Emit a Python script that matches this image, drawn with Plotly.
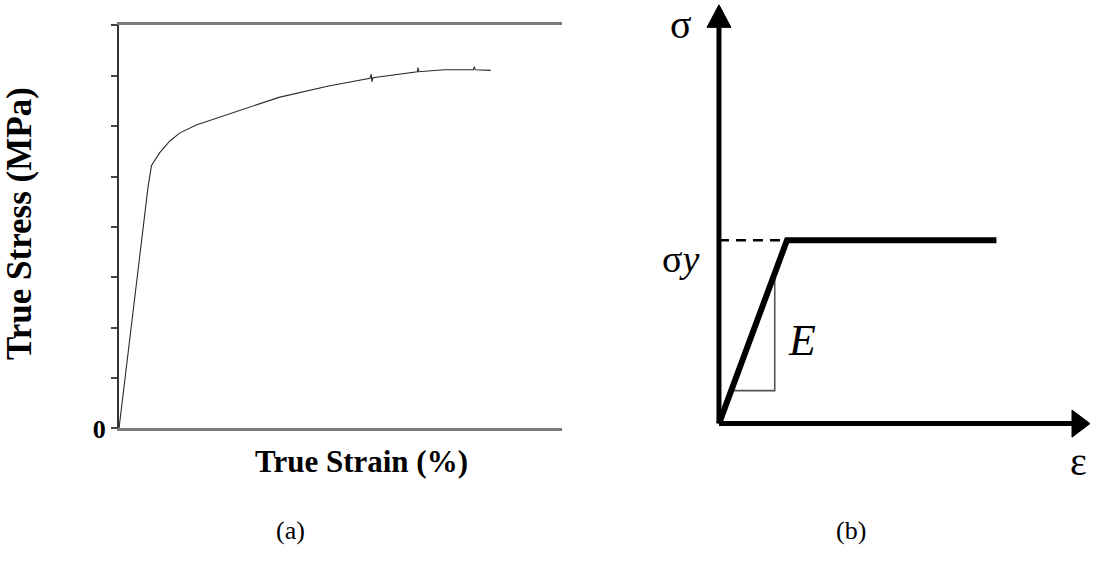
import plotly.graph_objects as go

# ---- (a) measured true stress-strain curve ----
true_strain = [0, 1.97, 2.20, 2.76, 3.43, 4.10, 5.23, 7.47, 10.83, 14.19,
               17.00, 17.08, 17.13, 17.20, 20.20, 20.25, 20.30, 22.04,
               24.00, 24.06, 24.12, 25.18]
true_stress = [0, 479.8, 521.7, 547.4, 570.0, 586.1, 602.3, 624.7, 657.0, 679.6,
               695.0, 703.0, 688.0, 696.0, 708.0, 716.0, 708.0, 711.7,
               711.7, 718.0, 711.7, 710.5]
stress_ticks = [0, 100, 200, 300, 400, 500, 600, 700, 800]
stress_tick_text = ["0", "", "", "", "", "", "", "", ""]

# ---- (b) idealised elastic / perfectly-plastic model (normalised) ----
model_strain = [0, 1.0, 4.08]
model_stress = [0, 1.0, 1.0]
yield_strain = 1.0
yield_stress = 1.0
slope_tri_strain = [0.18, 0.82, 0.82]
slope_tri_stress = [0.18, 0.18, 0.82]

W, H = 1093, 573
SERIF = "Liberation Serif"


def px(x):
    return x / W


def py(y):
    return 1 - y / H


fig = go.Figure()

fig.add_trace(go.Scatter(
    x=true_strain, y=true_stress, mode="lines",
    line=dict(color="#2a2a2a", width=1.1),
    xaxis="x", yaxis="y", showlegend=False, hoverinfo="skip"))

# axes of the schematic with arrow heads
EPS_MAX, SIG_MAX = 5.456, 2.284
HEAD_E, HEAD_S = 0.265, 0.123
HALF_E, HALF_S = 0.176, 0.074
fig.add_trace(go.Scatter(x=[0, 0], y=[0, SIG_MAX - HEAD_S], mode="lines",
                         line=dict(color="black", width=5),
                         xaxis="x2", yaxis="y2", showlegend=False, hoverinfo="skip"))
fig.add_trace(go.Scatter(x=[0, EPS_MAX - HEAD_E], y=[0, 0], mode="lines",
                         line=dict(color="black", width=5),
                         xaxis="x2", yaxis="y2", showlegend=False, hoverinfo="skip"))
fig.add_trace(go.Scatter(x=[-HALF_E, HALF_E, 0, -HALF_E],
                         y=[SIG_MAX - HEAD_S, SIG_MAX - HEAD_S, SIG_MAX, SIG_MAX - HEAD_S],
                         mode="lines", fill="toself", fillcolor="black",
                         line=dict(color="black", width=1),
                         xaxis="x2", yaxis="y2", showlegend=False, hoverinfo="skip"))
fig.add_trace(go.Scatter(x=[EPS_MAX - HEAD_E, EPS_MAX - HEAD_E, EPS_MAX, EPS_MAX - HEAD_E],
                         y=[-HALF_S, HALF_S, 0, -HALF_S],
                         mode="lines", fill="toself", fillcolor="black",
                         line=dict(color="black", width=1),
                         xaxis="x2", yaxis="y2", showlegend=False, hoverinfo="skip"))

# yield level guide
fig.add_trace(go.Scatter(x=[0, yield_strain], y=[yield_stress, yield_stress], mode="lines",
                         line=dict(color="black", width=2.5, dash="10px,7px"),
                         xaxis="x2", yaxis="y2", showlegend=False, hoverinfo="skip"))
# slope triangle
fig.add_trace(go.Scatter(x=slope_tri_strain, y=slope_tri_stress, mode="lines",
                         line=dict(color="#555555", width=1.6),
                         xaxis="x2", yaxis="y2", showlegend=False, hoverinfo="skip"))
# elastic-plastic response
fig.add_trace(go.Scatter(x=model_strain, y=model_stress, mode="lines",
                         line=dict(color="black", width=6),
                         xaxis="x2", yaxis="y2", showlegend=False, hoverinfo="skip"))

ann = []


def label(x, y, text, size, bold=False, angle=0, yanchor="middle"):
    ann.append(dict(x=px(x), y=py(y), xref="paper", yref="paper", text=text,
                    showarrow=False, textangle=angle, xanchor="center", yanchor=yanchor,
                    font=dict(family=SERIF, size=size, color="black",
                              weight="bold" if bold else "normal")))


label(20, 230, "True Stress (MPa)", 35, bold=True, angle=-90)
label(361, 474, "True Strain (%)", 31, bold=True)
label(681, 0, "σ", 40, yanchor="top")
label(680, 266, "σ<i>y</i>", 38)
label(802, 350, "<i>E</i>", 44)
label(1078, 474, "ε", 40)
label(290, 545, "(a)", 26)
label(851, 545, "(b)", 26)

fig.update_layout(
    width=W, height=H,
    margin=dict(l=0, r=0, t=0, b=0),
    paper_bgcolor="white", plot_bgcolor="white",
    annotations=ann,
    xaxis=dict(domain=[px(119), px(562)], range=[0, 30], showline=True,
               linecolor="#7a7a7a", linewidth=3, mirror=True, ticks="",
               showticklabels=False, showgrid=False, zeroline=False),
    yaxis=dict(domain=[py(440), py(26)], range=[0, 800], showline=True,
               linecolor="#333333", linewidth=2, ticks="outside",
               tickvals=stress_ticks, ticktext=stress_tick_text,
               ticklen=6, tickwidth=1.5, tickcolor="#444444",
               tickfont=dict(family=SERIF, size=26, color="black", weight="bold"),
               showgrid=False, zeroline=False),
    xaxis2=dict(domain=[px(700), 1.0], range=[-0.279, 5.5], visible=False,
                anchor="y2"),
    yaxis2=dict(domain=[0.0, 1.0], range=[(435 - H) / 188.3, 435 / 188.3],
                visible=False, anchor="x2"),
)

fig.write_html("out.html")
